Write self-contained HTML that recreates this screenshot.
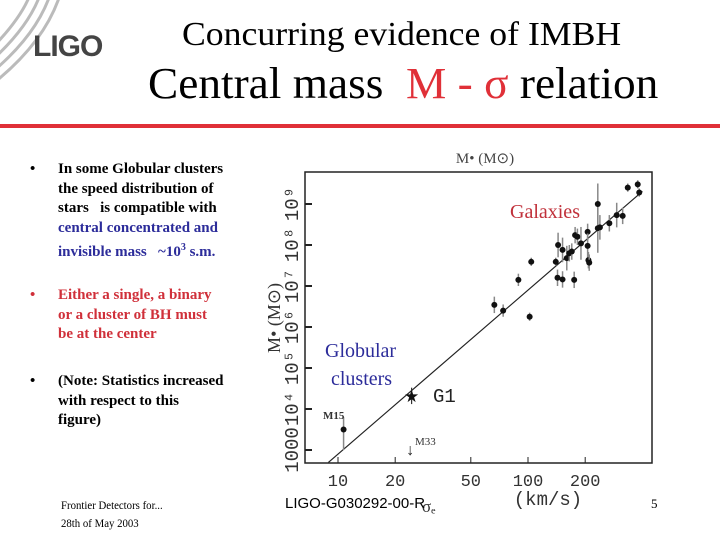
<!DOCTYPE html>
<html><head><meta charset="utf-8"><style>
body{margin:0;width:720px;height:540px;background:#fff;position:relative;overflow:hidden;font-family:"Liberation Serif",serif}
.a{position:absolute;white-space:nowrap}
</style></head><body>
<svg class="a" style="left:0;top:0" width="720" height="540">
 <g fill="none" stroke="#bbb" stroke-width="3">
  <path d="M-10 50 Q20 20 30 -5"/><path d="M-10 62 Q28 28 40 -5"/><path d="M-10 74 Q36 36 50 -5"/><path d="M-10 86 Q44 44 60 -5"/>
 </g>
 <rect x="0" y="124" width="720" height="4" fill="#e03038"/>
 <g id="chart"></g>
</svg>
<div class="a" style="left:33px;top:30px;font:bold 30px 'Liberation Sans',sans-serif;color:#444;letter-spacing:-1px">LIGO</div>
<div class="a" style="left:182px;top:16px;font-size:34px;transform:scaleX(1.05);transform-origin:left">Concurring evidence of IMBH</div>
<div class="a" style="left:148px;top:58px;font-size:44px;transform:scaleX(1.03);transform-origin:left">Central mass &nbsp;<span style="color:#e03038">M - σ</span> relation</div>
<div class="a" style="left:30px;top:160px;font-size:15px;font-weight:bold;line-height:19.5px">•<div class="a" style="left:28px;top:0">In some Globular clusters<br>the speed distribution of<br>stars &nbsp; is compatible with<br><span style="color:#2c2c9a">central concentrated and<br>invisible mass &nbsp; ~10<sup style="font-size:10px">3</sup> s.m.</span></div></div>
<div class="a" style="left:30px;top:286px;font-size:15px;font-weight:bold;line-height:19.5px;color:#d0303a">•<div class="a" style="left:28px;top:0">Either a single, a binary<br>or a cluster of BH must<br>be at the center</div></div>
<div class="a" style="left:30px;top:372px;font-size:15px;font-weight:bold;line-height:19.5px">•<div class="a" style="left:28px;top:0">(Note: Statistics increased<br>with respect to this<br>figure)</div></div>
<div class="a" style="left:61px;top:496px;font-size:12px;line-height:18px;transform:scaleX(0.9);transform-origin:left">Frontier Detectors for...<br>28th of May 2003</div>
<div class="a" style="left:285px;top:495px;font:15px 'Liberation Sans',sans-serif">LIGO-G030292-00-R</div>
<div class="a" style="left:651px;top:496px;font-size:13px">5</div>
<script>
const sigma=[66.5,74,89,104,102,140,144,143,152,152,160,165,170,177,182,175,190,206,206,208,210,233,233,239,268,293,315,335,378,385];
const logM=[6.54,6.40,7.15,7.59,6.25,7.59,8.0,7.20,7.16,7.88,7.68,7.80,7.84,8.24,8.20,7.15,8.04,8.32,7.98,7.63,7.57,8.41,9.0,8.43,8.53,8.73,8.71,9.40,9.48,9.28];
const errM=[0.2,0.15,0.15,0.1,0.1,0.1,0.3,0.2,0.2,0.3,0.3,0.2,0.2,0.2,0.2,0.2,0.4,0.2,0.3,0.2,0.2,0.6,0.5,0.3,0.2,0.3,0.2,0.1,0.1,0.1];
const xTicks=[10,20,50,100,200];
const yTicks=[3,4,5,6,7,8,9];
const yTickLabels=["1000","10⁴","10⁵","10⁶","10⁷","10⁸","10⁹"];
const m15=[10.7,3.5], g1=[24.4,4.32], m33=[24.0,3.0];
const fitSlope=4.0, fitIntercept=-1.1;
const X=s=>338+190*(Math.log10(s)-1);
const Y=m=>450-41*(m-3);
const g=document.getElementById('chart');
function el(t,a,txt){const e=document.createElementNS('http://www.w3.org/2000/svg',t);for(const k in a)e.setAttribute(k,a[k]);if(txt!==undefined)e.textContent=txt;g.appendChild(e);return e;}
let e=el('rect',{x:305,y:172,width:347,height:291,fill:'none',stroke:'#222','stroke-width':1.5});


xTicks.forEach(t=>{
 let l=el('line',{x1:X(t),x2:X(t),y1:463,y2:457,stroke:'#222'});
 
 
 let tx=el('text',{x:X(t),y:486,'text-anchor':'middle','font-size':17,'font-family':'Liberation Mono,monospace',fill:'#333'},t);
 
 
});
yTicks.forEach((t,i)=>{
 let l=el('line',{x1:305,x2:312,y1:Y(t),y2:Y(t),stroke:'#222','stroke-width':2});
 
 
 let tx=el('text',{transform:`translate(298,${Y(t)}) rotate(-90)`,'text-anchor':'middle','font-size':19,'font-family':'Liberation Mono,monospace',fill:'#333'},yTickLabels[i]);
 
 
});
e=el('text',{transform:'translate(280,318) rotate(-90)','text-anchor':'middle','font-size':18,fill:'#333'},'M• (M⊙)');


e=el('text',{x:485,y:163,'text-anchor':'middle','font-size':15,fill:'#444'},'M• (M⊙)');


e=el('text',{x:548,y:505,'text-anchor':'middle','font-size':19,'font-family':'Liberation Mono,monospace',fill:'#333'},'(km/s)');


e=el('text',{x:422,y:512,'font-size':17,fill:'#333'},'σₑ');


const s0=8.9,s1=400;
e=el('line',{x1:X(s0),y1:Y(fitIntercept+fitSlope*Math.log10(s0)),x2:X(s1),y2:Y(fitIntercept+fitSlope*Math.log10(s1)),stroke:'#222','stroke-width':1.2});


sigma.forEach((s,i)=>{
 let b=el('line',{x1:X(s),x2:X(s),y1:Y(logM[i]-errM[i]),y2:Y(logM[i]+errM[i]),stroke:'#888','stroke-width':1.5});
 
 
 let c=el('circle',{cx:X(s),cy:Y(logM[i]),r:3,fill:'#111'});
 
 
});
e=el('line',{x1:X(m15[0]),x2:X(m15[0]),y1:Y(m15[1]-0.5),y2:Y(m15[1]+0.3),stroke:'#888','stroke-width':1.5});


e=el('circle',{cx:X(m15[0]),cy:Y(m15[1]),r:3,fill:'#111'});


e=el('text',{x:323,y:419,'font-size':11,'font-weight':'bold',fill:'#333'},'M15');


e=el('line',{x1:X(g1[0]),x2:X(g1[0]),y1:Y(g1[1]-0.2),y2:Y(g1[1]+0.2),stroke:'#333','stroke-width':1.2});


e=el('text',{x:X(g1[0]),y:Y(g1[1])+6,'text-anchor':'middle','font-size':17,fill:'#111'},'★');


e=el('text',{x:433,y:402,'font-size':19,'font-family':'Liberation Mono,monospace',fill:'#222'},'G1');


e=el('text',{x:X(m33[0]),y:Y(m33[1])+5,'text-anchor':'middle','font-size':16,fill:'#222'},'↓');


e=el('text',{x:415,y:445,'font-size':11,fill:'#333'},'M33');


e=el('text',{x:510,y:218,'font-size':20,fill:'#c0303a'},'Galaxies');


e=el('text',{x:325,y:357,'font-size':20,fill:'#2c2c9a'},'Globular');


e=el('text',{x:331,y:385,'font-size':20,fill:'#2c2c9a'},'clusters');


</script>
</body></html>
